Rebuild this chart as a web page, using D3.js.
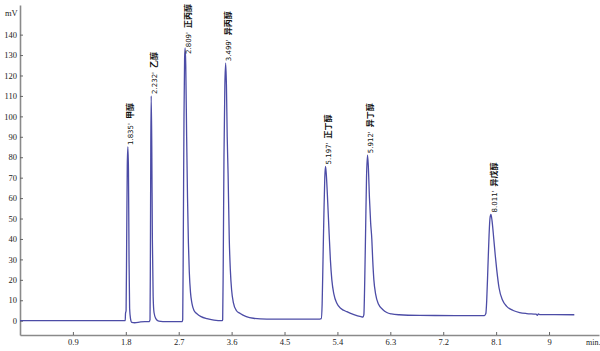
<!DOCTYPE html>
<html lang="zh">
<head>
    <meta charset="UTF-8">
    <title>色谱图</title>
    <style>
        body {
            margin: 0;
            background: #fff;
        }
        svg {
            display: block;
        }
    </style>
</head>
<body>
    <script src="https://d3js.org/d3.v7.min.js"></script>
    <script>
        const chartW = 600
        const chartH = 351

        // retention time (min) and signal (mV)
        const times = [
            0, 1.79,
            1.795, 1.805, 1.815, 1.825, 1.835, 1.845, 1.855, 1.865, 1.88, 1.9, 1.95, 2.05, 2.2,
            2.212, 2.218, 2.225, 2.232, 2.242, 2.252, 2.265, 2.28, 2.31, 2.36, 2.5, 2.76,
            2.768, 2.778, 2.79, 2.8, 2.809, 2.82, 2.835, 2.85, 2.865, 2.88, 2.9, 2.925, 2.96, 3.01, 3.08, 3.18, 3.3, 3.44,
            3.448, 3.458, 3.47, 3.485, 3.499, 3.512, 3.525, 3.54, 3.56, 3.578, 3.6, 3.632, 3.68, 3.746, 3.85, 3.97, 4.2, 5.1,
            5.125, 5.14, 5.155, 5.17, 5.185, 5.197, 5.21, 5.235, 5.26, 5.28, 5.305, 5.34, 5.39, 5.46, 5.56, 5.68, 5.8, 5.835,
            5.85, 5.865, 5.88, 5.895, 5.912, 5.925, 5.945, 5.965, 5.985, 6.0, 6.02, 6.05, 6.1, 6.17, 6.24, 6.32, 6.45, 6.8, 7.4, 7.9,
            7.925, 7.94, 7.96, 7.98, 7.995, 8.011, 8.03, 8.06, 8.085, 8.11, 8.15, 8.21, 8.28, 8.39, 8.5, 8.62, 8.78, 8.8, 8.82, 8.84, 9.1, 9.43
        ]
        const signal = [
            0, 0,
            3.5, 5, 40, 76, 85, 74, 30, 6, 1, -0.8, -1, -0.6, -0.4,
            0.5, 30, 85, 110, 85, 40, 12, 4, 1, -0.2, -0.5, -0.4,
            0.5, 40, 100, 128, 133.5, 125, 90, 60, 38, 24, 14, 8.5, 5, 3.4, 2, 1, 0.3, 0,
            0.5, 30, 80, 115, 126, 115, 90, 72, 40, 25, 15, 8.6, 5, 3.5, 2, 1.2, 0.8, 0.8,
            1, 8, 30, 52, 70, 75.5, 72, 58, 42, 30, 20, 13, 8.5, 6, 4.4, 3, 2, 1.8,
            3, 20, 45, 70, 81, 76, 60, 48, 40, 30, 20, 13, 8, 5.5, 4, 3.3, 2.9, 2.6, 2.5, 2.5,
            3.5, 10, 26, 42, 50, 52, 49, 40, 32, 25, 16, 10, 7, 5, 4, 3.5, 3.2, 2.6, 3.3, 3, 3, 2.9
        ]

        // peak annotations
        const peakNames = ['甲醇', '乙醇', '正丙醇', '异丙醇', '正丁醇', '异丁醇', '异戊醇']
        const peakTimes = [1.835, 2.232, 2.809, 3.499, 5.197, 5.912, 8.011]
        const peakLabels = ["1.835'", "2.232'", "2.809'", "3.499'", "5.197'", "5.912'", "8.011'"]

        // tick labels
        const xTicks = [0.9, 1.8, 2.7, 3.6, 4.5, 5.4, 6.3, 7.2, 8.1, 9]
        const yTicks = [0, 10, 20, 30, 40, 50, 60, 70, 80, 90, 100, 110, 120, 130, 140]

        const trace = times.map((t, i) => ({ t: t, v: signal[i] }))

        const x = d3.scaleLinear()
            .domain([0, 9.85])
            .range([20, 599])

        const y = d3.scaleLinear()
            .domain([-7, 154.5])
            .range([335, 5])

        const svg = d3.select('body')
            .append('svg')
            .attr('width', chartW)
            .attr('height', chartH)

        // 坐标轴
        const xAxis = d3.axisBottom(x)
            .tickValues(xTicks)
            .tickFormat(d => d)
            .tickSizeInner(-3)
            .tickSizeOuter(0)
            .tickPadding(4)

        const yAxis = d3.axisLeft(y)
            .tickValues(yTicks)
            .tickFormat(d => d)
            .tickSizeInner(-3)
            .tickSizeOuter(0)
            .tickPadding(3)

        const gx = svg.append('g')
            .attr('transform', `translate(0, ${y.range()[0]})`)
            .call(xAxis)

        const gy = svg.append('g')
            .attr('transform', `translate(${x.range()[0]}, 0)`)
            .call(yAxis)

        ;[gx, gy].forEach(g => {
            g.select('.domain')
                .attr('stroke', '#8a8a8a')
                .attr('stroke-width', 1.6)
            g.selectAll('.tick line')
                .attr('stroke', '#666')
            g.selectAll('.tick text')
                .attr('fill', '#222')
                .attr('font-family', 'Liberation Serif, serif')
                .attr('font-size', 8.5)
        })

        svg.append('text')
            .attr('x', 5)
            .attr('y', 16)
            .attr('font-family', 'Liberation Serif, serif')
            .attr('font-size', 8.5)
            .attr('fill', '#222')
            .text('mV')

        svg.append('text')
            .attr('x', 586)
            .attr('y', 345)
            .attr('font-family', 'Liberation Serif, serif')
            .attr('font-size', 8)
            .attr('fill', '#222')
            .text('min.')

        // 色谱曲线
        const line = d3.line()
            .x(d => x(d.t))
            .y(d => y(d.v))
            .curve(d3.curveMonotoneX)

        svg.append('path')
            .datum(trace)
            .attr('d', line)
            .attr('fill', 'none')
            .attr('stroke', '#4c4ca6')
            .attr('stroke-width', 1.3)

        // 峰标注
        const peakTop = t => d3.max(trace.filter(d => Math.abs(d.t - t) < 0.03), d => d.v)

        const labels = svg.append('g')
            .selectAll('text')
            .data(peakNames)
            .enter()
            .append('text')
            .attr('dy', '0.35em')
            .attr('fill', '#111')

        labels.append('tspan')
            .attr('font-family', 'DejaVu Sans, sans-serif')
            .attr('font-size', 7)
            .text((d, i) => peakLabels[i])

        labels.append('tspan')
            .attr('dx', 4)
            .attr('font-family', 'Noto Sans CJK SC, sans-serif')
            .attr('font-weight', 'bold')
            .attr('font-size', 8)
            .text(d => d)

        // keep tall labels inside the top edge (they slide down over the peak)
        labels.attr('transform', function (d, i) {
            const len = this.getComputedTextLength() + 4
            const start = Math.max(y(peakTop(peakTimes[i])) - 2, 4 + len)
            return `translate(${x(peakTimes[i])}, ${start}) rotate(-90)`
        })
    </script>
</body>
</html>
